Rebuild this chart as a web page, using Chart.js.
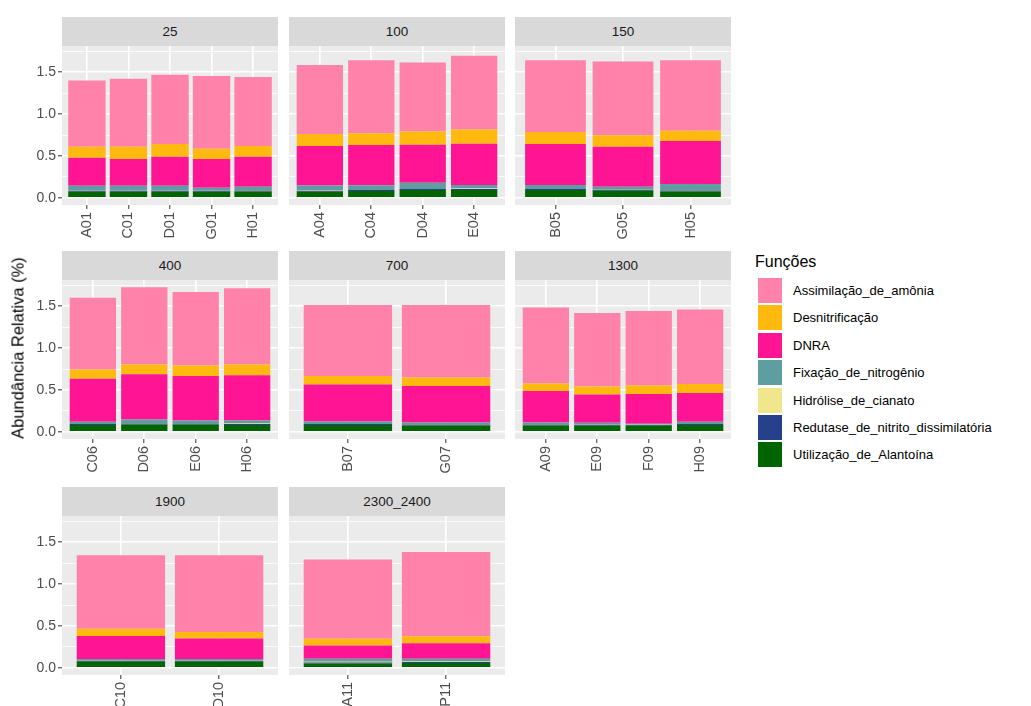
<!DOCTYPE html>
<html>
<head>
<meta charset="utf-8">
<script src="https://cdn.jsdelivr.net/npm/chart.js@4.4.1/dist/chart.umd.min.js"></script>
<style>
  html, body { margin: 0; padding: 0; background: #ffffff; }
  body { width: 1031px; height: 706px; overflow: hidden; position: relative;
         font-family: "Liberation Sans", Arial, sans-serif; }
  canvas { position: absolute; }
  .strip { position: absolute; background: #D9D9D9; color: #1A1A1A; font-size: 13.5px;
           text-align: center; }
  .ytitle { position: absolute; white-space: nowrap; color: #000; font-size: 16.5px;
            transform: translate(-50%, -50%) rotate(-90deg); }
  .legend-title { position: absolute; color: #000; font-size: 16px; }
  .key { position: absolute; width: 24px; height: 25px; }
  .key-label { position: absolute; color: #000; font-size: 13px; white-space: nowrap; }
</style>
</head>
<body>
<script>
// Facets (depth groups) and the samples in each one
const panels = ['25', '100', '150', '400', '700', '1300', '1900', '2300_2400'];
const samples = [
  ['A01', 'C01', 'D01', 'G01', 'H01'],
  ['A04', 'C04', 'D04', 'E04'],
  ['B05', 'G05', 'H05'],
  ['C06', 'D06', 'E06', 'H06'],
  ['B07', 'G07'],
  ['A09', 'E09', 'F09', 'H09'],
  ['C10', 'D10'],
  ['A11', 'P11']
];

// Relative abundance (%) per function, one inner array per facet
const assimilacao = [
  [0.790, 0.813, 0.829, 0.869, 0.825],
  [0.825, 0.873, 0.825, 0.882],
  [0.858, 0.881, 0.843],
  [0.856, 0.923, 0.879, 0.911],
  [0.851, 0.867],
  [0.907, 0.879, 0.891, 0.891],
  [0.877, 0.917],
  [0.949, 1.005]
];
const desnitrificacao = [
  [0.132, 0.148, 0.152, 0.124, 0.128],
  [0.144, 0.140, 0.156, 0.171],
  [0.143, 0.136, 0.122],
  [0.111, 0.116, 0.127, 0.127],
  [0.100, 0.104],
  [0.092, 0.095, 0.103, 0.107],
  [0.088, 0.076],
  [0.081, 0.084]
];
const dnra = [
  [0.334, 0.318, 0.346, 0.342, 0.358],
  [0.470, 0.482, 0.454, 0.494],
  [0.490, 0.478, 0.515],
  [0.514, 0.541, 0.530, 0.542],
  [0.442, 0.434],
  [0.374, 0.339, 0.355, 0.343],
  [0.273, 0.245],
  [0.156, 0.185]
];
const fixacao = [
  [0.059, 0.059, 0.059, 0.035, 0.039],
  [0.058, 0.055, 0.075, 0.042],
  [0.047, 0.035, 0.074],
  [0.026, 0.046, 0.034, 0.037],
  [0.030, 0.022],
  [0.022, 0.022, 0.012, 0.026],
  [0.020, 0.020],
  [0.037, 0.033]
];
const hidrolise = [
  [0.002, 0.002, 0.002, 0.002, 0.006],
  [0.006, 0.002, 0.002, 0.006],
  [0.002, 0.002, 0.002],
  [0.002, 0.002, 0.002, 0.006],
  [0.002, 0.002],
  [0.002, 0.002, 0.002, 0.002],
  [0.002, 0.002],
  [0.008, 0.008]
];
const redutase = [
  [0.012, 0.012, 0.012, 0.012, 0.012],
  [0.012, 0.012, 0.012, 0.012],
  [0.012, 0.012, 0.012],
  [0.012, 0.012, 0.012, 0.012],
  [0.012, 0.012],
  [0.012, 0.012, 0.010, 0.012],
  [0.012, 0.012],
  [0.012, 0.012]
];
const utilizacao = [
  [0.072, 0.072, 0.072, 0.072, 0.075],
  [0.072, 0.080, 0.092, 0.092],
  [0.092, 0.084, 0.076],
  [0.080, 0.088, 0.088, 0.080],
  [0.080, 0.076],
  [0.076, 0.072, 0.072, 0.080],
  [0.072, 0.072],
  [0.052, 0.056]
];

const yMajorTicks = [0, 0.5, 1.0, 1.5];
const yMinorTicks = [0.25, 0.75, 1.25, 1.75];

// Legend order (top of the stack first)
const seriesNames = [
  'Assimilação_de_amônia', 'Desnitrificação', 'DNRA', 'Fixação_de_nitrogênio',
  'Hidrólise_de_cianato', 'Redutase_de_nitrito_dissimilatória', 'Utilização_de_Alantoína'
];
const seriesValues = [assimilacao, desnitrificacao, dnra, fixacao, hidrolise, redutase, utilizacao];
const seriesColors = ['#FF82AB', '#FFB90F', '#FF1493', '#5F9EA0', '#F0E68C', '#27408B', '#006400'];

// ---- layout of the facet grid ----
const FONT = '"Liberation Sans", Arial, sans-serif';
const colLeft = [62, 289, 515];
const rowTop = [46, 280, 516];
const panelW = 216;
const panelH = 159;
const stripH = 29;
const yAxisW = 42;
const xAxisH = 52;

// Shared y range: stacked totals with 5% expansion on both sides
const totals = [];
samples.forEach((names, p) => names.forEach((_, i) => {
  totals.push(seriesValues.reduce((s, arr) => s + arr[p][i], 0));
}));
const yMax = Math.max(...totals);
const yLo = -0.05 * yMax;
const yHi = yMax * 1.05;
const yGrid = [...yMajorTicks, ...yMinorTicks].sort((a, b) => a - b);
const isMajor = v => yMajorTicks.some(t => Math.abs(t - v) < 1e-9);

const panelBg = {
  id: 'panelBg',
  beforeDraw(chart) {
    const { ctx, chartArea: a } = chart;
    ctx.save();
    ctx.fillStyle = '#EBEBEB';
    ctx.fillRect(a.left, a.top, a.right - a.left, a.bottom - a.top);
    ctx.restore();
  }
};

function zeroPad(s) { s.paddingLeft = 0; s.paddingRight = 0; s.paddingTop = 0; s.paddingBottom = 0; }

panels.forEach((label, p) => {
  const row = Math.floor(p / 3), col = p % 3;
  const names = samples[p];
  const n = names.length;
  const leftAxis = col === 0;
  const cw = panelW + (leftAxis ? yAxisW : 0);
  const ch = panelH + xAxisH;

  const strip = document.createElement('div');
  strip.className = 'strip';
  strip.style.left = colLeft[col] + 'px';
  strip.style.top = (rowTop[row] - stripH) + 'px';
  strip.style.width = panelW + 'px';
  strip.style.height = stripH + 'px';
  strip.style.lineHeight = stripH + 'px';
  strip.textContent = label;
  document.body.appendChild(strip);

  const canvas = document.createElement('canvas');
  canvas.width = cw;
  canvas.height = ch;
  canvas.style.left = (colLeft[col] - (leftAxis ? yAxisW : 0)) + 'px';
  canvas.style.top = rowTop[row] + 'px';
  canvas.style.width = cw + 'px';
  canvas.style.height = ch + 'px';
  document.body.appendChild(canvas);

  // Chart.js stacks the first dataset at the bottom, so feed the series bottom-up
  const datasets = seriesNames.map((name, k) => ({
    label: name,
    data: names.map((_, i) => ({ x: i + 1, y: seriesValues[k][p][i] })),
    backgroundColor: seriesColors[k],
    borderWidth: 0,
    barPercentage: 0.9,
    categoryPercentage: 1.0
  })).reverse();

  new Chart(canvas, {
    type: 'bar',
    data: { datasets },
    plugins: [panelBg],
    options: {
      responsive: false,
      animation: false,
      events: [],
      layout: { padding: 0 },
      plugins: { legend: { display: false }, tooltip: { enabled: false } },
      scales: {
        x: {
          type: 'linear',
          stacked: true,
          offset: false,
          min: 0.4,
          max: n + 0.6,
          afterBuildTicks: s => { s.ticks = names.map((_, i) => ({ value: i + 1 })); },
          afterFit: s => { s.height = xAxisH; zeroPad(s); },
          ticks: {
            autoSkip: false, minRotation: 90, maxRotation: 90, padding: 3,
            color: '#4D4D4D', font: { family: FONT, size: 14.5 },
            callback: v => names[Math.round(v) - 1]
          },
          grid: { offset: false, color: '#FFFFFF', lineWidth: 1.6, tickColor: '#333333', tickLength: 4, tickWidth: 1 },
          border: { display: false }
        },
        y: {
          type: 'linear',
          stacked: true,
          min: yLo,
          max: yHi,
          afterBuildTicks: s => { s.ticks = yGrid.map(v => ({ value: v })); },
          afterFit: s => { s.width = leftAxis ? yAxisW : 0; zeroPad(s); },
          ticks: {
            display: leftAxis, autoSkip: false, padding: 2,
            color: '#4D4D4D', font: { family: FONT, size: 14 },
            callback: v => isMajor(v) ? v.toFixed(1) : ''
          },
          grid: {
            color: '#FFFFFF',
            lineWidth: c => (c.tick && isMajor(c.tick.value)) ? 1.6 : 0.8,
            drawTicks: leftAxis,
            tickLength: 4,
            tickWidth: 1,
            tickColor: c => (c.tick && isMajor(c.tick.value)) ? '#333333' : 'rgba(0,0,0,0)'
          },
          border: { display: false }
        }
      }
    }
  });
});

// Shared y-axis title
const yt = document.createElement('div');
yt.className = 'ytitle';
yt.textContent = 'Abundância Relativa (%)';
yt.style.left = '18px';
yt.style.top = '348px';
document.body.appendChild(yt);

// Legend
const lt = document.createElement('div');
lt.className = 'legend-title';
lt.textContent = 'Funções';
lt.style.left = '755px';
lt.style.top = '253px';
document.body.appendChild(lt);

seriesNames.forEach((name, k) => {
  const top = 278 + k * 27.4;
  const key = document.createElement('div');
  key.className = 'key';
  key.style.left = '758px';
  key.style.top = top + 'px';
  key.style.background = seriesColors[k];
  document.body.appendChild(key);
  const lab = document.createElement('div');
  lab.className = 'key-label';
  lab.textContent = name;
  lab.style.left = '793px';
  lab.style.top = top + 'px';
  lab.style.lineHeight = '25px';
  document.body.appendChild(lab);
});
</script>
</body>
</html>
